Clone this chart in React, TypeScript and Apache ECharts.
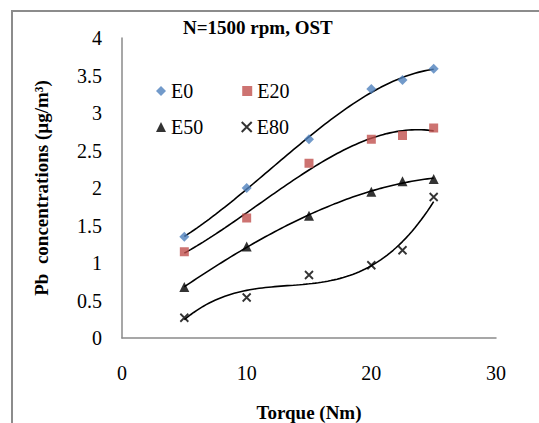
import React, { useEffect, useRef } from "react";
import * as echarts from "echarts";

const torque = [5, 10, 15, 20, 22.5, 25];
const e0 = [1.35, 2.0, 2.65, 3.32, 3.44, 3.59];
const e20 = [1.15, 1.6, 2.33, 2.65, 2.7, 2.8];
const e50 = [0.68, 1.22, 1.63, 1.95, 2.09, 2.12];
const e80 = [0.27, 0.54, 0.84, 0.97, 1.17, 1.88];
const seriesNames = ["E0", "E20", "E50", "E80"];
const yTicks = { min: 0, max: 4, interval: 0.5 };
const xTicks = { min: 0, max: 30, interval: 10 };

// Least-squares polynomial (trendline, as in the original spreadsheet chart)
function polyFit(xs: number[], ys: number[], order: number): number[] {
  const n = order + 1;
  const A: number[][] = [];
  for (let i = 0; i < n; i++) {
    A.push([]);
    for (let j = 0; j < n; j++) {
      let s = 0;
      for (const x of xs) s += Math.pow(x, i + j);
      A[i].push(s);
    }
    let r = 0;
    xs.forEach((x, k) => (r += ys[k] * Math.pow(x, i)));
    A[i].push(r);
  }
  for (let c = 0; c < n; c++) {
    let p = c;
    for (let r = c + 1; r < n; r++) if (Math.abs(A[r][c]) > Math.abs(A[p][c])) p = r;
    [A[c], A[p]] = [A[p], A[c]];
    for (let r = 0; r < n; r++) {
      if (r === c) continue;
      const f = A[r][c] / A[c][c];
      for (let k = c; k <= n; k++) A[r][k] -= f * A[c][k];
    }
  }
  return A.map((row, i) => row[n] / row[i]);
}

function trend(ys: number[]): number[][] {
  const coef = polyFit(torque, ys, 3);
  const out: number[][] = [];
  const x0 = torque[0];
  const x1 = torque[torque.length - 1];
  for (let k = 0; k <= 80; k++) {
    const x = x0 + ((x1 - x0) * k) / 80;
    let y = 0;
    coef.forEach((c, i) => (y += c * Math.pow(x, i)));
    out.push([x, y]);
  }
  return out;
}

const pairs = (ys: number[]) => torque.map((x, i) => [x, ys[i]]);

export default function App() {
  const ref = useRef<HTMLDivElement>(null);
  useEffect(() => {
    if (!ref.current) return;
    const chart = echarts.init(ref.current, null, { renderer: "svg" });
    const serif = "Times New Roman";
    const axisGray = "#8a8a8a";
    const lineStyle = { color: "#000", width: 1.6 };
    const cross = "path://M0,0L10,10M10,0L0,10";
    const regular = { fontFamily: serif, fontStyle: "normal", fontWeight: "normal", color: "#000" };
    chart.setOption({
      animation: false,
      backgroundColor: "#fff",
      textStyle: { fontFamily: serif },
      title: {
        text: "N=1500 rpm, OST",
        left: 178,
        top: 13,
        textStyle: { fontFamily: serif, fontWeight: "bold", fontSize: 19, color: "#000" },
      },
      graphic: [
        {
          type: "rect",
          shape: { x: 12, y: 11, width: 700, height: 600 },
          style: { fill: "none", stroke: "#8c8c8c", lineWidth: 2 },
          silent: true,
        },
      ],
      legend: [
        {
          data: [seriesNames[0], seriesNames[1]],
          left: 151,
          top: 76,
          itemGap: 49,
          itemWidth: 10,
          itemHeight: 10,
          textStyle: { ...regular, fontSize: 20 },
        },
        {
          data: [seriesNames[2], seriesNames[3]],
          left: 151,
          top: 112,
          itemGap: 36,
          itemWidth: 10,
          itemHeight: 10,
          textStyle: { ...regular, fontSize: 20 },
        },
      ],
      grid: { left: 122, right: 43, top: 38, bottom: 85, containLabel: false, outerBoundsMode: "none" },
      xAxis: {
        type: "value",
        ...xTicks,
        name: "Torque (Nm)",
        nameLocation: "middle",
        nameGap: 65,
        nameTextStyle: { fontFamily: serif, fontWeight: "bold", fontSize: 19, color: "#000" },
        axisLine: { show: true, lineStyle: { color: axisGray, width: 1.5 } },
        axisTick: { show: false },
        splitLine: { show: false },
        axisLabel: { ...regular, fontSize: 20, margin: 25 },
      },
      yAxis: {
        type: "value",
        ...yTicks,
        name: "Pb  concentrations (µg/m³)",
        nameLocation: "middle",
        nameRotate: 90,
        nameGap: 71,
        nameTextStyle: { fontFamily: serif, fontWeight: "bold", fontSize: 19, color: "#000" },
        axisLine: { show: true, lineStyle: { color: axisGray, width: 1.5 } },
        axisTick: { show: false },
        splitLine: { show: false },
        axisLabel: { ...regular, fontSize: 20, margin: 20 },
      },
      series: [
        { name: "E0 trend", type: "line", data: trend(e0), showSymbol: false, lineStyle, z: 1 },
        { name: "E20 trend", type: "line", data: trend(e20), showSymbol: false, lineStyle, z: 1 },
        { name: "E50 trend", type: "line", data: trend(e50), showSymbol: false, lineStyle, z: 1 },
        { name: "E80 trend", type: "line", data: trend(e80), showSymbol: false, lineStyle, z: 1 },
        {
          name: seriesNames[0], type: "scatter", data: pairs(e0), symbol: "diamond", symbolSize: 10,
          itemStyle: { color: "#4F81BD" }, z: 3,
        },
        {
          name: seriesNames[1], type: "scatter", data: pairs(e20), symbol: "rect", symbolSize: 9,
          itemStyle: { color: "#C0504D" }, z: 3,
        },
        {
          name: seriesNames[2], type: "scatter", data: pairs(e50), symbol: "triangle", symbolSize: 10,
          itemStyle: { color: "#000" }, z: 3,
        },
        {
          name: seriesNames[3], type: "scatter", data: pairs(e80), symbol: cross, symbolSize: 8,
          itemStyle: { color: "none", borderColor: "#000", borderWidth: 1.8 }, z: 3,
        },
      ],
    });
    return () => chart.dispose();
  }, []);
  return (
    <div
      ref={ref}
      style={{ position: "fixed", left: 0, top: 0, width: 539, height: 423, background: "#fff" }}
    />
  );
}
